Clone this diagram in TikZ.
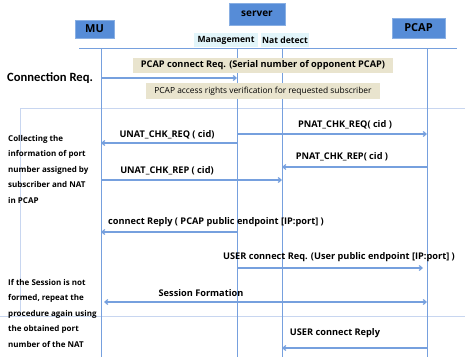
\documentclass[tikz,border=0pt]{standalone}
\usepackage{fontspec}
\setmainfont{Open Sans}
\newfontfamily\condfont{Carlito}
\usetikzlibrary{
	arrows.meta,
	positioning,
	calc
}
\definecolor{hdrblue}{RGB}{86,140,215}
\definecolor{lineblue}{RGB}{118,160,222}
\definecolor{notetan}{RGB}{233,228,206}
\definecolor{tagcyan}{RGB}{226,245,250}
\definecolor{gridblue}{RGB}{200,214,240}

\begin{document}
\begin{tikzpicture}[
		x=1pt, y=-1pt,
		actor/.style={fill=hdrblue, draw=hdrblue!70, font=\bfseries\fontsize{11}{12}\selectfont, inner sep=0pt},
		tag/.style={fill=tagcyan, font=\bfseries\fontsize{8.6}{10}\selectfont, inner sep=1pt, minimum height=14pt},
		note/.style={fill=notetan, inner sep=0pt, minimum height=15pt},
		lbl/.style={font=\bfseries\fontsize{9.2}{10}\selectfont, inner sep=0pt},
		side/.style={align=left, anchor=west, font=\bfseries\fontsize{8}{15.5}\selectfont, inner sep=0pt},
		life/.style={draw=lineblue, line width=0.8pt},
		msg/.style={-{Straight Barb[length=3pt,width=5pt]}, draw=lineblue, line width=1.2pt},
		grid/.style={draw=gridblue, line width=0.7pt}
		]
		\useasboundingbox (0,0) rectangle (465,359);
		
		% =========================
		% Actors
		% =========================
		\node[actor, minimum width=39pt, minimum height=18pt] (mu) at (94.5,29) {MU};
		\node[actor, minimum width=56pt, minimum height=22pt, font=\bfseries\fontsize{10}{12}\selectfont] (server) at (257,14) {server};
		\node[actor, minimum width=53pt, minimum height=20pt] (pcap) at (418.5,28) {PCAP};
		\node[tag, minimum width=64pt] (mgmt) at (226,40) {Management};
		\node[tag, minimum width=47pt] (nat) at (285,40) {Nat detect};
		
		% =========================
		% Lifelines
		% =========================
		\coordinate (top) at (0,48);
		\coordinate (bot) at (0,357);
		\coordinate (hl) at (79,48);
		\coordinate (hr) at (457,48);
		\coordinate (mux) at (101,0);
		\coordinate (mgx) at (237,0);
		\coordinate (ntx) at (282,0);
		\coordinate (pcx) at (427,0);
		
		% frame lines
		\coordinate (f1) at (20,108);
		\coordinate (f2) at (465,108);
		\coordinate (f3) at (20,316);
		\coordinate (f4) at (0,316);
		\coordinate (f5) at (465,316);
		\draw[grid] (f2) -- (f1) -- (f3);
		\draw[grid] (f4) -- (f5);
		
		\draw[life] (hl) -- (hr);
		\draw[life] (mux |- top) -- (mux |- bot);
		\draw[life] (mgx |- top) -- (mgx |- bot);
		\draw[life] (ntx |- top) -- (ntx |- bot);
		\draw[life] (pcx |- top) -- (pcx |- bot);
		
		% =========================
		% Connection request
		% =========================
		\node[note, minimum width=260pt, font=\bfseries\fontsize{9.2}{10}\selectfont] (req) at (263,65.5) {PCAP connect Req. (Serial number of opponent PCAP)};
		\node[note, minimum width=234pt, minimum height=16pt, font=\fontsize{8.4}{10}\selectfont] (verify) at (263,91) {PCAP access rights verification for requested subscriber};
		\node[anchor=west, inner sep=0pt, font=\condfont\bfseries\fontsize{12.6}{14}\selectfont] (connreq) at (7,78) {Connection Req.};
		
		\coordinate (r1) at (0,78);
		\draw[msg] (mux |- r1) -- (mgx |- r1);
		
		% =========================
		% NAT check
		% =========================
		\node[lbl] (pnatreq) at (345,125) {PNAT\_CHK\_REQ( cid )};
		\node[lbl] (unatreq) at (167,135) {UNAT\_CHK\_REQ ( cid)};
		\node[lbl] (pnatrep) at (342,157) {PNAT\_CHK\_REP( cid )};
		\node[lbl] (unatrep) at (167,171) {UNAT\_CHK\_REP ( cid)};
		\node[side] (collect) at (8,169) {Collecting the\\information of port\\number assigned by\\subscriber and NAT\\in PCAP};
		
		\coordinate (r2) at (0,134);
		\coordinate (r3) at (0,143);
		\coordinate (r4) at (0,167);
		\coordinate (r5) at (0,180);
		\draw[msg] (mgx |- r2) -- (pcx |- r2);
		\draw[msg] (mgx |- r3) -- (mux |- r3);
		\draw[msg] (pcx |- r4) -- (ntx |- r4);
		\draw[msg] (mux |- r5) -- (ntx |- r5);
		
		% =========================
		% Replies and session
		% =========================
		\node[lbl] (reply) at (216,222) {connect Reply ( PCAP public endpoint [IP:port] )};
		\node[lbl] (userreq) at (339,257) {USER connect Req. (User public endpoint [IP:port] )};
		\node[lbl] (session) at (201,293) {Session Formation};
		\node[lbl] (userrep) at (335,333) {USER connect Reply};
		\node[side] (retry) at (8,313) {If the Session is not\\formed, repeat the\\procedure again using\\the obtained port\\number of the NAT};
		
		\coordinate (r6) at (0,232);
		\coordinate (r7) at (0,268);
		\coordinate (r8) at (0,302);
		\coordinate (r9) at (0,348);
		\draw[msg] (mgx |- r6) -- (mux |- r6);
		\draw[msg, shorten >=4pt] (mgx |- r7) -- (pcx |- r7);
		\draw[msg, {Straight Barb[length=3pt,width=5pt]}-{Straight Barb[length=3pt,width=5pt]}, shorten <=3pt] (mux |- r8) -- (pcx |- r8);
		\draw[msg] (pcx |- r9) -- (ntx |- r9);
		
	\end{tikzpicture}
\end{document}
